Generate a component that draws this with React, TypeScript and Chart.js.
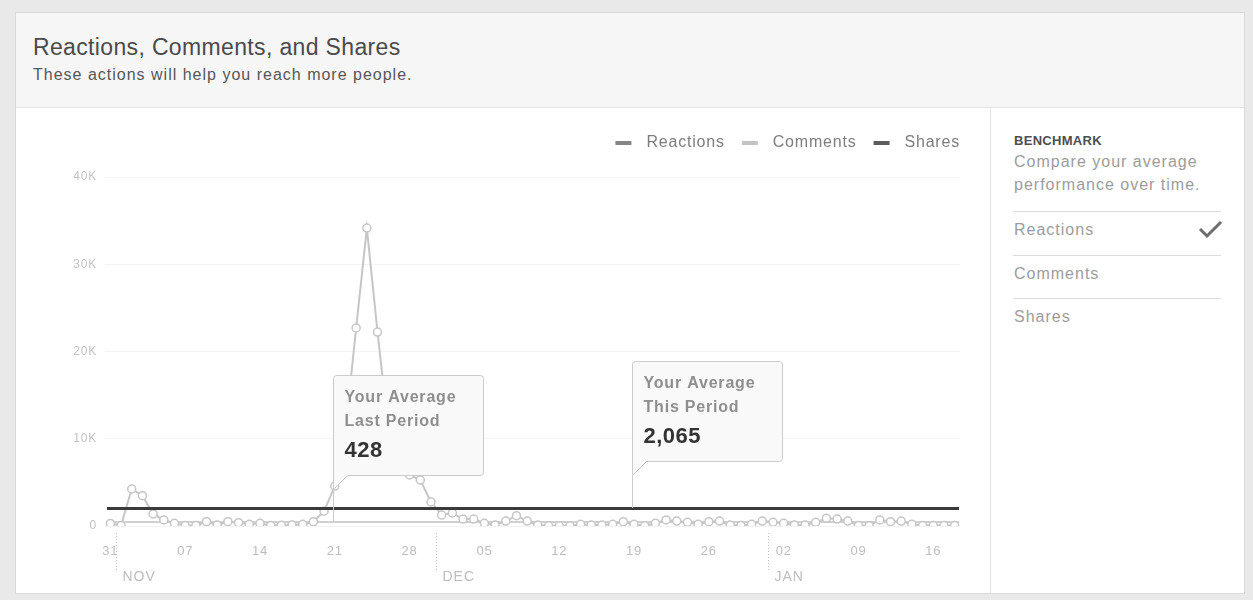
import React, { useEffect, useRef } from 'react';
import { Chart, registerables } from 'chart.js';

Chart.register(...registerables);

const FONT = '"Liberation Sans", Arial, Helvetica, sans-serif';
Chart.defaults.font.family = FONT;

// ---------------- data ----------------
const startDate = [2016, 9, 31]; // first day shown: Oct 31
const reactions = [
  300, 50, 4240, 3470, 1380, 690, 310, 50, 50, 490,
  110, 490, 380, 200, 310, 50, 80, 110, 200, 490,
  1700, 4580, 11000, 22700, 34150, 22230, 11200, 7800, 5850, 5270,
  2750, 1260, 1490, 800, 800, 310, 110, 570, 1180, 570,
  110, 30, 30, 30, 200, 110, 110, 200, 490, 200,
  20, 310, 690, 570, 420, 200, 490, 570, 110, 50,
  200, 570, 420, 310, 110, 110, 420, 880, 800, 570,
  50, 30, 690, 490, 570, 200, 50, 50, 50, 50,
];
const seriesNames = ['Reactions', 'Comments', 'Shares'];
const tickLabels = ['31', '07', '14', '21', '28', '05', '12', '19', '26', '02', '09', '16'];
const tickStep = 7;
const monthNames = ['NOV', 'DEC', 'JAN'];
const monthStarts = [1, 31, 62];
const yTickValues = [0, 10000, 20000, 30000, 40000];
const avgLastPeriod = 428;
const avgThisPeriod = 2065;
const calloutDays = [21, 49];
const benchmarkItems = ['Reactions', 'Comments', 'Shares'];

// ---------------- styles ----------------
const legendColors = ['#858585', '#c4c4c4', '#5c5c5c'];
const lineColor = '#c6c6c6';

const days = reactions.map((_, i) => {
  const d = new Date(startDate[0], startDate[1], startDate[2] + i);
  return `${d.getFullYear()}-${String(d.getMonth() + 1).padStart(2, '0')}-${String(d.getDate()).padStart(2, '0')}`;
});

const SPACING = '0.8px';

const spacingPlugin = {
  id: 'spacingPlugin',
  beforeLayout(chart: any) { (chart.ctx as any).letterSpacing = SPACING; },
  afterLayout(chart: any) { (chart.ctx as any).letterSpacing = '0px'; },
  beforeDraw(chart: any) { (chart.ctx as any).letterSpacing = SPACING; },
  beforeDatasetsDraw(chart: any) { (chart.ctx as any).letterSpacing = '0px'; },
};

const legendHeightPlugin = {
  id: 'legendHeightPlugin',
  beforeInit(chart: any) {
    const legend = chart.legend;
    if (!legend || legend.__patched) return;
    const fit = legend.fit;
    legend.fit = function () {
      fit.call(this);
      this.height = 42;
    };
    legend.__patched = true;
  },
};

const hLine = (chart: any, value: number, color: string, width: number) => {
  const { ctx, chartArea, scales } = chart;
  const y = Math.round(scales.y.getPixelForValue(value)) + (width % 2 ? 0.5 : 0);
  ctx.save();
  ctx.strokeStyle = color;
  ctx.lineWidth = width;
  ctx.beginPath();
  ctx.moveTo(chartArea.left + 2, y);
  ctx.lineTo(chartArea.right - 1, y);
  ctx.stroke();
  ctx.restore();
};

const drawCallout = (chart: any, dayIndex: number, value: number, line2: string) => {
  const { ctx, scales } = chart;
  const x = Math.round(scales.x.getPixelForValue(dayIndex)) - 1.5;
  const targetY = scales.y.getPixelForValue(value);
  const w = 150;
  const h = 100;
  const tail = 14;
  const r = 3;
  const bottom = Math.round(targetY - 47) + 0.5;
  const top = bottom - h;
  ctx.save();
  ctx.strokeStyle = '#cbcbcb';
  ctx.lineWidth = 1;
  ctx.beginPath();
  ctx.moveTo(x, bottom + tail);
  ctx.lineTo(x, targetY);
  ctx.stroke();
  ctx.beginPath();
  ctx.moveTo(x, bottom + tail);
  ctx.lineTo(x, top + r);
  ctx.arcTo(x, top, x + r, top, r);
  ctx.lineTo(x + w - r, top);
  ctx.arcTo(x + w, top, x + w, top + r, r);
  ctx.lineTo(x + w, bottom - r);
  ctx.arcTo(x + w, bottom, x + w - r, bottom, r);
  ctx.lineTo(x + tail, bottom);
  ctx.closePath();
  ctx.fillStyle = '#f9f9f9';
  ctx.fill();
  ctx.stroke();
  (ctx as any).letterSpacing = '0.8px';
  ctx.textAlign = 'left';
  ctx.textBaseline = 'middle';
  ctx.fillStyle = '#8e8e8e';
  ctx.font = `bold 16px ${FONT}`;
  ctx.fillText('Your Average', x + 11, top + 22);
  ctx.fillText(line2, x + 11, top + 46);
  ctx.fillStyle = '#333333';
  ctx.font = `bold 22px ${FONT}`;
  (ctx as any).letterSpacing = '0.5px';
  ctx.fillText(value.toLocaleString('en-US'), x + 11, top + 75);
  ctx.restore();
};

const benchmarkPlugin = {
  id: 'benchmarkPlugin',
  beforeDatasetsDraw(chart: any) {
    hLine(chart, avgLastPeriod, '#d0d0d0', 2);
  },
  afterDatasetsDraw(chart: any) {
    hLine(chart, avgThisPeriod, '#3a3a3a', 3);
    drawCallout(chart, calloutDays[0], avgLastPeriod, 'Last Period');
    drawCallout(chart, calloutDays[1], avgThisPeriod, 'This Period');
  },
};

const monthPlugin = {
  id: 'monthPlugin',
  afterDraw(chart: any) {
    const { ctx, chartArea, scales } = chart;
    ctx.save();
    monthStarts.forEach((idx, i) => {
      const x = Math.round((scales.x.getPixelForValue(idx - 1) + scales.x.getPixelForValue(idx)) / 2) + 0.5;
      ctx.strokeStyle = '#c4c4c4';
      ctx.lineWidth = 1;
      ctx.setLineDash([1, 2]);
      ctx.beginPath();
      ctx.moveTo(x, chartArea.bottom + 7);
      ctx.lineTo(x, chartArea.bottom + 44);
      ctx.stroke();
      ctx.setLineDash([]);
      (ctx as any).letterSpacing = '1px';
      ctx.fillStyle = '#bdbdbd';
      ctx.font = `14px ${FONT}`;
      ctx.textAlign = 'left';
      ctx.textBaseline = 'middle';
      ctx.fillText(monthNames[i], x + 6, chartArea.bottom + 51);
    });
    ctx.restore();
  },
};

const makeDash = (color: string) => {
  const c = document.createElement('canvas');
  c.width = 40;
  c.height = 4;
  const g = c.getContext('2d');
  if (g) {
    g.fillStyle = color;
    g.fillRect(17, 0, 16, 4);
  }
  return c;
};

function ChartPanel() {
  const ref = useRef<HTMLCanvasElement | null>(null);
  useEffect(() => {
    if (!ref.current) return;
    const dashes = legendColors.map(makeDash);
    const chart = new Chart(ref.current, {
      type: 'line',
      data: {
        labels: days,
        datasets: [
          {
            label: seriesNames[0],
            data: reactions,
            borderColor: lineColor,
            borderWidth: 2,
            pointRadius: 4,
            pointBorderWidth: 1.5,
            pointBackgroundColor: '#ffffff',
            pointBorderColor: lineColor,
            tension: 0,
          },
        ],
      },
      options: {
        responsive: false,
        animation: false,
        events: [],
        layout: { padding: { top: 27, right: 30, bottom: 0, left: 0 } },
        plugins: {
          tooltip: { enabled: false },
          legend: {
            display: true,
            position: 'top',
            align: 'end',
            labels: {
              usePointStyle: true,
              pointStyleWidth: 40,
              boxHeight: 4,
              padding: 0,
              color: '#7d7d7d',
              font: { size: 16, family: FONT },
              generateLabels: () =>
                seriesNames.map((name, i) => ({
                  text: name,
                  pointStyle: dashes[i] as any,
                  fillStyle: legendColors[i],
                  strokeStyle: legendColors[i],
                  fontColor: '#7d7d7d',
                  lineWidth: 0,
                  hidden: false,
                  datasetIndex: 0,
                })),
            },
          },
        },
        scales: {
          x: {
            type: 'category',
            offset: true,
            grid: { display: false, drawTicks: false },
            border: { display: false },
            afterFit: (s: any) => { s.height = 67; },
            ticks: {
              autoSkip: false,
              maxRotation: 0,
              padding: 18,
              color: '#bdbdbd',
              font: { size: 13, family: FONT },
              callback: (_v: any, index: number) =>
                index % tickStep === 0 ? tickLabels[index / tickStep] : '',
            },
          },
          y: {
            min: 0,
            max: 40000,
            afterFit: (s: any) => { s.width = 89; },
            afterBuildTicks: (s: any) => { s.ticks = yTickValues.map((v) => ({ value: v })); },
            grid: { color: '#f3f3f3', drawTicks: false },
            border: { display: false },
            ticks: {
              padding: 8,
              color: '#c2c2c2',
              font: { size: 12, family: FONT },
              callback: (v: any) => (Number(v) === 0 ? '0' : `${Number(v) / 1000}K`),
            },
          },
        },
      },
      plugins: [legendHeightPlugin, spacingPlugin, benchmarkPlugin, monthPlugin],
    } as any);
    return () => chart.destroy();
  }, []);
  return <canvas ref={ref} width={974} height={485} style={{ position: 'absolute', left: 16, top: 108, width: 974, height: 485 }} />;
}

const abs = (left: number, top: number, extra: React.CSSProperties = {}): React.CSSProperties => ({
  position: 'absolute',
  left,
  top,
  whiteSpace: 'nowrap',
  ...extra,
});

export default function App() {
  const panelText: React.CSSProperties = { fontSize: 16, lineHeight: '20px', color: '#9c9c9c', letterSpacing: '1px' };
  return (
    <div style={{ position: 'fixed', left: 0, top: 0, width: 1253, height: 600, background: '#e9e9e9', fontFamily: FONT, overflow: 'hidden' }}>
      <div style={{ position: 'absolute', left: 15, top: 12, width: 1230, height: 582, background: '#ffffff', border: '1px solid #d9d9d9', boxSizing: 'border-box' }} />
      <div style={{ position: 'absolute', left: 16, top: 13, width: 1228, height: 94, background: '#f6f6f6', borderBottom: '1px solid #e2e2e2' }} />
      <div style={abs(33, 33, { fontSize: 23, lineHeight: '28px', color: '#4a4a4a', letterSpacing: '0.35px' })}>
        Reactions, Comments, and Shares
      </div>
      <div style={abs(33, 65, { fontSize: 16, lineHeight: '20px', color: '#575757', letterSpacing: '1px' })}>
        These actions will help you reach more people.
      </div>
      <ChartPanel />
      <div style={{ position: 'absolute', left: 990, top: 108, width: 1, height: 485, background: '#e3e3e3' }} />
      <div style={abs(1014, 133, { fontSize: 13, lineHeight: '16px', fontWeight: 'bold', color: '#4e4e4e', letterSpacing: '0.3px' })}>
        BENCHMARK
      </div>
      <div style={abs(1014, 152, panelText)}>Compare your average</div>
      <div style={abs(1014, 175, panelText)}>performance over time.</div>
      {benchmarkItems.map((name, i) => (
        <React.Fragment key={name}>
          <div style={{ position: 'absolute', left: 1013, top: 211 + i * 43.5, width: 208, height: 1, background: '#dcdcdc' }} />
          <div style={abs(1014, 220 + i * 43.5, panelText)}>{name}</div>
        </React.Fragment>
      ))}
      <svg style={{ position: 'absolute', left: 1198, top: 219 }} width={26} height={20}>
        <polyline points="2,10 9,17 23,3" fill="none" stroke="#6d6d6d" strokeWidth={3} />
      </svg>
    </div>
  );
}
